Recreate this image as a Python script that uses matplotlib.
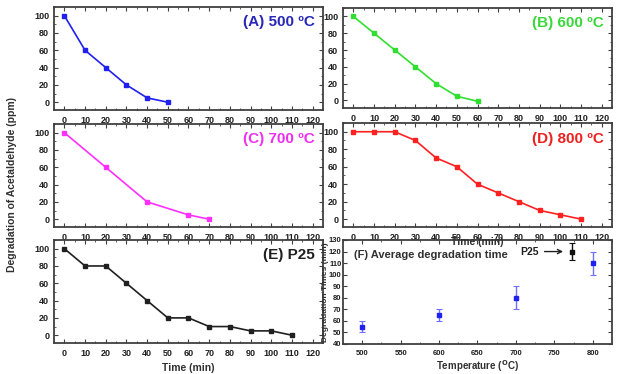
import matplotlib
matplotlib.use("Agg")
import matplotlib.pyplot as plt
from matplotlib.ticker import MultipleLocator

plt.rcParams['font.family'] = ['Liberation Sans', 'DejaVu Sans']
plt.rcParams['font.weight'] = 'bold'

# Data
time_a = [0, 10, 20, 30, 40, 50]
conc_a = [100, 60, 40, 20, 5, 0]
time_b = [0, 10, 20, 30, 40, 50, 60]
conc_b = [100, 80, 60, 40, 20, 5, -1]
time_c = [0, 20, 40, 60, 70]
conc_c = [100, 60, 20, 5, 0]
time_d = [0, 10, 20, 30, 40, 50, 60, 70, 80, 90, 100, 110]
conc_d = [100, 100, 100, 90, 70, 60, 40, 30, 20, 10, 5, 0]
time_e = [0, 10, 20, 30, 40, 50, 60, 70, 80, 90, 100, 110]
conc_e = [100, 80, 80, 60, 40, 20, 20, 10, 10, 5, 5, 0]
temps = [500, 600, 700, 800]
avg_time = [55, 65, 80, 110]
avg_err = [5, 5, 10, 10]
p25_pos = [773]
p25_time = [120]
p25_err = [7]

W, H = 618, 374
fig = plt.figure(figsize=(W / 100, H / 100), dpi=100)

def ax_px(l, r, t, b):
    return fig.add_axes([l / W, 1 - b / H, (r - l) / W, (b - t) / H])

frame_col = '#404040'

def style(ax, ticksize=6.5):
    for s in ax.spines.values():
        s.set_color(frame_col)
        s.set_linewidth(1.3)
    ax.tick_params(which='both', direction='in', top=True, right=True,
                   labelsize=ticksize, colors=frame_col, labelcolor='#202020')
    ax.tick_params(which='major', length=3, width=0.8)
    ax.tick_params(which='minor', length=1.5, width=0.6)
    ax.tick_params(axis='x', pad=4)

panels = [
    ((54, 323, 7, 110), time_a, conc_a, '#2020f0', '(A) 500 ºC', '#2828b8'),
    ((343, 612, 8, 108), time_b, conc_b, '#30e030', '(B) 600 ºC', '#3ad83a'),
    ((54, 323, 124, 227), time_c, conc_c, '#ff30ff', '(C) 700 ºC', '#ee30ee'),
    ((343, 612, 123, 227), time_d, conc_d, '#ff2020', '(D) 800 ºC', '#ee2020'),
    ((54, 323, 240, 343), time_e, conc_e, '#202020', '(E) P25', '#202020'),
]

axes = []
for pos, x, y, col, title, tcol in panels:
    ax = ax_px(*pos)
    ax.plot(x, y, color=col, lw=1.2, marker='s', ms=2.5)
    ax.set_xlim(-5, 125)
    ax.set_ylim(-9, 110)
    ax.xaxis.set_major_locator(MultipleLocator(10))
    ax.xaxis.set_minor_locator(MultipleLocator(5))
    ax.yaxis.set_major_locator(MultipleLocator(20))
    ax.yaxis.set_minor_locator(MultipleLocator(10))
    ax.set_yticks([0, 20, 40, 60, 80, 100])
    style(ax)
    ax.text(0.97, 0.85, title, transform=ax.transAxes, ha='right', va='center',
            fontsize=11, fontweight='bold', color=tcol)
    axes.append(ax)

axes[4].set_xlabel('Time (min)', fontsize=7.5, fontweight='bold', labelpad=4, color='#303030')

fig.text(477 / W, 1 - 242 / H, 'Time (min)', ha='center', va='center',
         fontsize=7.5, fontweight='bold', color='#303030', zorder=10)

fig.text(12 / W, 1 - 185 / H, 'Degradation of Acetaldehyde (ppm)', rotation=90,
         ha='center', va='center', fontsize=7.5, fontweight='bold', color='#303030')

# Panel F
axf = ax_px(343, 612, 240, 344)
axf.errorbar(temps, avg_time, yerr=avg_err, fmt='s', color='#2020f0', ms=2.5,
             ecolor='#7070ff', elinewidth=1.0, capsize=2, capthick=0.8)
axf.errorbar(p25_pos, p25_time, yerr=p25_err, fmt='s', color='#101010', ms=3,
             ecolor='#101010', elinewidth=1.0, capsize=2, capthick=0.8)
axf.set_xlim(475, 825)
axf.set_ylim(40, 130)
axf.xaxis.set_major_locator(MultipleLocator(50))
axf.xaxis.set_minor_locator(MultipleLocator(25))
axf.yaxis.set_major_locator(MultipleLocator(10))
style(axf, ticksize=5.5)
axf.tick_params(axis='y', pad=1)
axf.set_xlabel('Temperature ($^{\\mathrm{O}}$C)', fontsize=7, fontweight='bold', labelpad=1, color='#303030')
axf.set_ylabel('Degradation Times (min)', fontsize=6, fontweight='bold', labelpad=0, color='#303030')
axf.text(0.04, 0.86, '(F) Average degradation time', transform=axf.transAxes,
         ha='left', va='center', fontsize=8, fontweight='bold', color='#303030')
axf.annotate('P25', xy=(765, 120), xytext=(730, 120), ha='right', va='center',
             fontsize=7.5, fontweight='bold', color='#202020',
             arrowprops=dict(arrowstyle='->', color='#202020', lw=1.0))

fig.savefig('out.png', dpi=100)
